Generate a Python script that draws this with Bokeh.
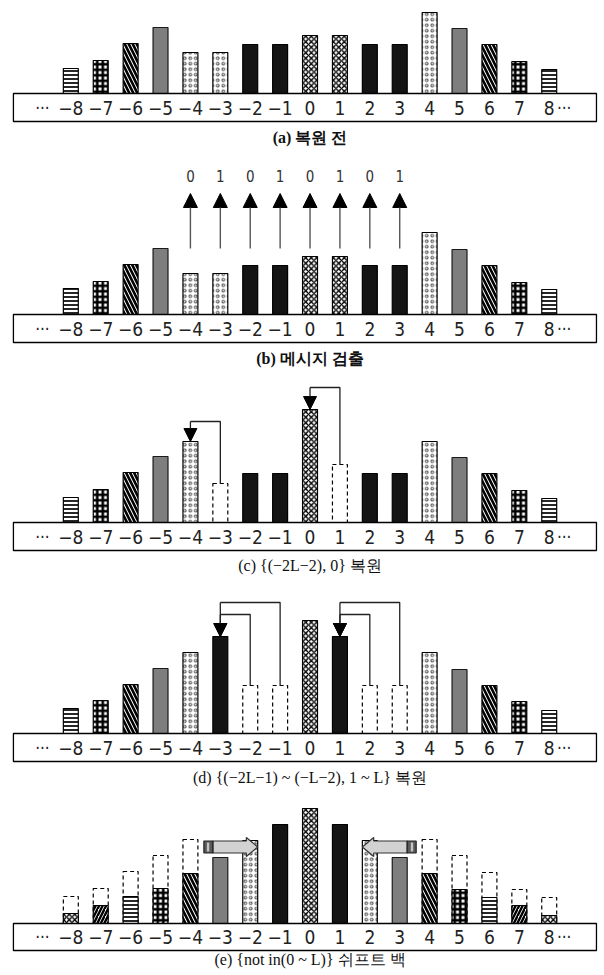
from bokeh.plotting import figure
from bokeh.models import Range1d, ColumnDataSource, Arrow, NormalHead
from bokeh.layouts import column
from bokeh.embed import file_html
from bokeh.resources import INLINE
from bokeh.core.properties import value

# ---------------- data ----------------
positions = list(range(-8, 9))
tick_labels = ["−8", "−7", "−6", "−5", "−4", "−3", "−2", "−1", "0",
               "1", "2", "3", "4", "5", "6", "7", "8"]

# (a) before restoration
heights_a = [25, 33, 50, 66, 41, 41, 49, 49, 58, 58, 49, 49, 81, 65, 49, 32, 24]
styles_a = ["hline", "checker", "ldiag", "gray", "dots", "dots", "black", "black",
            "xcross", "xcross", "black", "black", "dots", "gray", "ldiag", "checker", "hline"]

# (b) message detection
heights_b = [26, 33, 50, 66, 41, 41, 49, 49, 58, 58, 49, 49, 82, 65, 49, 32, 25]
styles_b = styles_a
message_positions = [-4, -3, -2, -1, 0, 1, 2, 3]
message_bits = ["0", "1", "0", "1", "0", "1", "0", "1"]

# (c) {(-2L-2), 0} restoration
heights_c = [25, 33, 50, 66, 81, 39, 49, 49, 113, 58, 49, 49, 81, 65, 49, 32, 24]
styles_c = ["hline", "checker", "ldiag", "gray", "dots", "empty", "black", "black",
            "xcross", "empty", "black", "black", "dots", "gray", "ldiag", "checker", "hline"]
moves_from_c = [-3, 1]
moves_to_c = [-4, 0]
move_levels_c = [101, 135]

# (d) {(-2L-1) ~ (-L-2), 1 ~ L} restoration
heights_d = [25, 33, 49, 65, 81, 97, 48, 48, 113, 97, 48, 48, 81, 64, 48, 32, 23]
styles_d = ["hline", "checker", "ldiag", "gray", "dots", "black", "empty", "empty",
            "xcross", "black", "empty", "empty", "dots", "gray", "ldiag", "checker", "hline"]
moves_from_d = [-1, -2, 3, 2]
moves_to_d = [-3, -3, 1, 1]
move_levels_d = [131, 119, 131, 119]

# (e) {not in(0 ~ L)} shift back
outline_e = [27, 35, 52, 68, 84, 0, 0, 0, 0, 0, 0, 0, 84, 68, 51, 34, 26]
heights_e = [10, 18, 27, 35, 50, 66, 83, 99, 115, 99, 83, 66, 50, 34, 26, 18, 8]
styles_e = ["xcross", "rdiag", "hline", "checker", "ldiag", "gray", "dots", "black",
            "xcross", "black", "dots", "gray", "ldiag", "checker", "hline", "rdiag", "xcross"]
shift_tails = [-3.55, 3.55]
shift_tips = [-1.75, 1.75]
shift_level = 76.5

captions = ["(a) 복원 전", "(b) 메시지 검출", "(c) {(−2L−2), 0} 복원",
            "(d) {(−2L−1) ~ (−L−2), 1 ~ L} 복원", "(e) {not in(0 ~ L)} 쉬프트 백"]
caption_bold = [True, True, False, False, False]

# ---------------- styling ----------------
W = 598
X_RANGE = (-10.352, 9.648)
LABEL_FONT = value("DejaVu Sans Condensed, Liberation Sans")
CAP_FONT = value("Liberation Serif")

STYLE = {
    "black":   dict(fill_color="#141414", line_color="#000000"),
    "gray":    dict(fill_color="#7e7e7e", line_color="#1a1a1a"),
    "hline":   dict(fill_color="white", line_color="#000000", hatch_pattern="horizontal_line",
                    hatch_scale=4.0, hatch_weight=1.7, hatch_color="#000000"),
    "checker": dict(fill_color="white", line_color="#000000", hatch_pattern="cross",
                    hatch_scale=5.5, hatch_weight=2.6, hatch_color="#000000"),
    "ldiag":   dict(fill_color="white", line_color="#000000", hatch_pattern="left_diagonal_line",
                    hatch_scale=8, hatch_weight=2.6, hatch_color="#000000"),
    "rdiag":   dict(fill_color="white", line_color="#000000", hatch_pattern="right_diagonal_line",
                    hatch_scale=7, hatch_weight=2.4, hatch_color="#000000"),
    "dots":    dict(fill_color="white", line_color="#000000", hatch_pattern="ring",
                    hatch_scale=5.5, hatch_weight=1.0, hatch_color="#444444"),
    "xcross":  dict(fill_color="white", line_color="#000000", hatch_pattern="diagonal_cross",
                    hatch_scale=5.5, hatch_weight=1.4, hatch_color="#000000"),
    "empty":   dict(fill_color="white", line_color="#000000", line_dash="4 3"),
}


def make_panel(height, y_lo, y_hi):
    p = figure(width=W, height=height, x_range=Range1d(*X_RANGE), y_range=Range1d(y_lo, y_hi),
               output_backend="svg", toolbar_location=None, x_axis_type=None, y_axis_type=None,
               min_border=0, outline_line_color=None, background_fill_color="white",
               border_fill_color="white")
    p.xgrid.visible = False
    p.ygrid.visible = False
    return p


def draw_scale(p, k, cap_y, box_bottom=-28):
    p.quad(left=[-9.92], right=[9.58], bottom=[box_bottom], top=[0],
           fill_color="white", line_color="#000000", line_width=1.3)
    p.text(x=positions, y=[box_bottom / 2] * len(positions), text=tick_labels,
           text_font=LABEL_FONT, text_font_size="19px", text_align="center",
           text_baseline="middle", text_color="#222222")
    p.text(x=[-8.95, 8.5], y=[box_bottom / 2] * 2, text=["···", "···"],
           text_font=LABEL_FONT, text_font_size="17px", text_align="center",
           text_baseline="middle", text_color="#222222")
    p.text(x=[0], y=[cap_y], text=[captions[k]], text_font=CAP_FONT, text_font_size="16px",
           text_font_style="bold" if caption_bold[k] else "normal",
           text_align="center", text_baseline="middle", text_color="#111111")


def draw_bars(p, heights, styles, width=0.5):
    for key in ["black", "gray", "hline", "checker", "ldiag", "rdiag", "dots", "xcross", "empty"]:
        xs = [x for x, s in zip(positions, styles) if s == key]
        ts = [h for h, s in zip(heights, styles) if s == key]
        if xs:
            p.vbar(x=xs, top=ts, bottom=0, width=width, line_width=1.2, **STYLE[key])


def draw_moves(p, heights, froms, tos, levels):
    hmap = dict(zip(positions, heights))
    xs, ys = [], []
    for f, t, lv in zip(froms, tos, levels):
        xs.append([f, f, t])
        ys.append([hmap[f], lv, lv])
    p.multi_line(xs=xs, ys=ys, line_color="#222222", line_width=1.3)
    src = ColumnDataSource(dict(x0=tos, y0=levels, x1=tos, y1=[hmap[t] for t in tos]))
    p.add_layout(Arrow(end=NormalHead(size=13, fill_color="black", line_color="black"),
                       x_start="x0", y_start="y0", x_end="x1", y_end="y1", source=src,
                       line_color="#222222", line_width=1.3))


# (a)
pa = make_panel(150, -57, 93)
draw_bars(pa, heights_a, styles_a)
draw_scale(pa, 0, -44)

# (b)
pb = make_panel(220, -56, 164)
draw_bars(pb, heights_b, styles_b)
src_b = ColumnDataSource(dict(x=message_positions, y0=[66] * 8, y1=[121] * 8))
pb.add_layout(Arrow(end=NormalHead(size=14, fill_color="black", line_color="black"),
                    x_start="x", y_start="y0", x_end="x", y_end="y1", source=src_b,
                    line_color="#555555", line_width=1.4))
pb.text(x=message_positions, y=[139] * 8, text=message_bits, text_font=LABEL_FONT,
        text_font_size="15px", text_align="center", text_baseline="middle", text_color="#333333")
draw_scale(pb, 1, -44)

# (c)
pc = make_panel(205, -53, 152)
draw_bars(pc, heights_c, styles_c)
draw_moves(pc, heights_c, moves_from_c, moves_to_c, move_levels_c)
draw_scale(pc, 2, -43)

# (d)
pd_ = make_panel(215, -57, 158)
draw_bars(pd_, heights_d, styles_d)
draw_moves(pd_, heights_d, moves_from_d, moves_to_d, move_levels_d)
draw_scale(pd_, 3, -44)

# (e)
pe = make_panel(183, -50, 133)
ox = [x for x, o in zip(positions, outline_e) if o > 0]
ot = [o for o in outline_e if o > 0]
pe.vbar(x=ox, top=ot, bottom=0, width=0.5, **STYLE["empty"], line_width=1.2)
draw_bars(pe, heights_e, styles_e)
for tail, tip in zip(shift_tails, shift_tips):
    d = 1 if tip > tail else -1
    head_len, tail_len = 0.38, 0.3
    bh, hh = 6, 9.5
    body_x = [tail + d * tail_len, tip - d * head_len, tip - d * head_len, tip,
              tip - d * head_len, tip - d * head_len, tail + d * tail_len]
    body_y = [shift_level + bh, shift_level + bh, shift_level + hh, shift_level,
              shift_level - hh, shift_level - bh, shift_level - bh]
    pe.patch(x=body_x, y=body_y, fill_color="#d2d2d2", line_color="#333333", line_width=1.2)
    pe.quad(left=[min(tail, tail + d * tail_len)], right=[max(tail, tail + d * tail_len)],
            bottom=[shift_level - bh], top=[shift_level + bh],
            fill_color="#5a5a5a", line_color="#222222", line_width=1.2)
    pe.quad(left=[min(tail + d * 0.1, tail + d * 0.18)], right=[max(tail + d * 0.1, tail + d * 0.18)],
            bottom=[shift_level - bh + 1.5], top=[shift_level + bh - 1.5],
            fill_color="#c4c4c4", line_color=None)
draw_scale(pe, 4, -36, box_bottom=-27)

layout = column(pa, pb, pc, pd_, pe, spacing=0)
open("out.html", "w").write(file_html(layout, INLINE))
